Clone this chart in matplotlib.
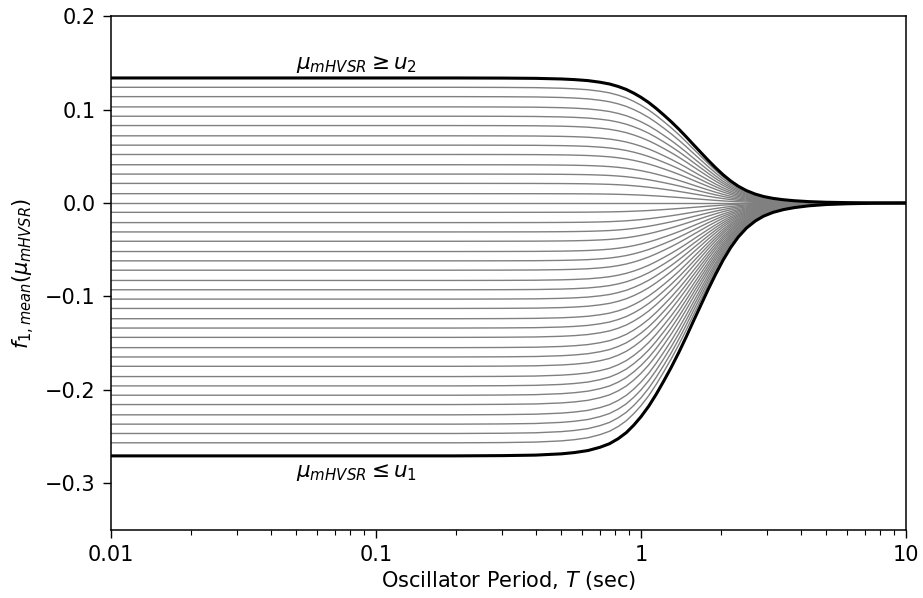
import numpy as np
import matplotlib
matplotlib.use("Agg")
import matplotlib.pyplot as plt

# Oscillator periods (sec) where the curves were sampled
period = [0.01, 0.2, 0.3, 0.4, 0.5, 0.56, 0.63, 0.7, 0.76, 0.82, 0.88,
          0.94, 1.0, 1.07, 1.14, 1.22, 1.3, 1.39, 1.48, 1.58, 1.68, 1.79,
          1.91, 2.04, 2.18, 2.33, 2.5, 2.7, 2.9, 3.15, 3.45, 3.8, 4.3,
          5.0, 6.0, 7.5, 10.0]

# Fraction of the short-period level left at each period
taper = [1.0, 1.0, 0.999, 0.997, 0.992, 0.987, 0.979, 0.966, 0.952,
         0.932, 0.908, 0.878, 0.845, 0.803, 0.757, 0.703, 0.65, 0.59,
         0.53, 0.465, 0.405, 0.343, 0.283, 0.226, 0.176, 0.134, 0.099,
         0.071, 0.052, 0.037, 0.026, 0.018, 0.011, 0.006, 0.003, 0.001,
         0.0]

# Short-period levels of the bounding curves
upper_level = 0.134    # mu_mHVSR >= u2
lower_level = -0.271   # mu_mHVSR <= u1

# Short-period levels of the intermediate curves
mid_levels = [0.124, 0.114, 0.103, 0.093, 0.083, 0.072, 0.062, 0.052,
              0.041, 0.031, 0.021, 0.010, 0.000, -0.010, -0.021, -0.031,
              -0.041, -0.052, -0.062, -0.072, -0.083, -0.093, -0.103,
              -0.113, -0.124, -0.134, -0.144, -0.155, -0.165, -0.175,
              -0.186, -0.196, -0.206, -0.216, -0.227, -0.237, -0.247,
              -0.257]

period = np.array(period)
taper = np.array(taper)

fig = plt.figure(figsize=(9.23, 5.98), dpi=100)
ax = fig.add_axes([0.1203, 0.1144, 0.8613, 0.8582])

for lev in mid_levels:
    ax.plot(period, lev * taper, "-", color="gray", lw=1.0)
ax.plot(period, upper_level * taper, "-", color="black", lw=2.2)
ax.plot(period, lower_level * taper, "-", color="black", lw=2.2)

ax.text(0.05, upper_level + 0.003, r"$\mu_{mHVSR} \geq u_2$",
        ha="left", va="bottom", size=15.5)
ax.text(0.05, lower_level - 0.007, r"$\mu_{mHVSR} \leq u_1$",
        ha="left", va="top", size=15.5)

ax.set_xscale("log")
ax.set_xlim(0.01, 10)
ax.set_ylim(-0.35, 0.2)
ax.set_xticks([0.01, 0.1, 1, 10])
ax.set_xticklabels(["0.01", "0.1", "1", "10"])
ax.set_yticks([-0.3, -0.2, -0.1, 0.0, 0.1, 0.2])
ax.tick_params(which="major", labelsize=15, length=6, width=1.0, pad=5)
ax.tick_params(which="minor", length=3.5, width=0.8)
for sp in ax.spines.values():
    sp.set_linewidth(1.1)
ax.set_xlabel(r"Oscillator Period, $T$ (sec)", size=15, labelpad=3)
ax.set_ylabel(r"$f_{1,mean}(\mu_{mHVSR})$", size=15, labelpad=6)

fig.savefig("out.png", dpi=100)
